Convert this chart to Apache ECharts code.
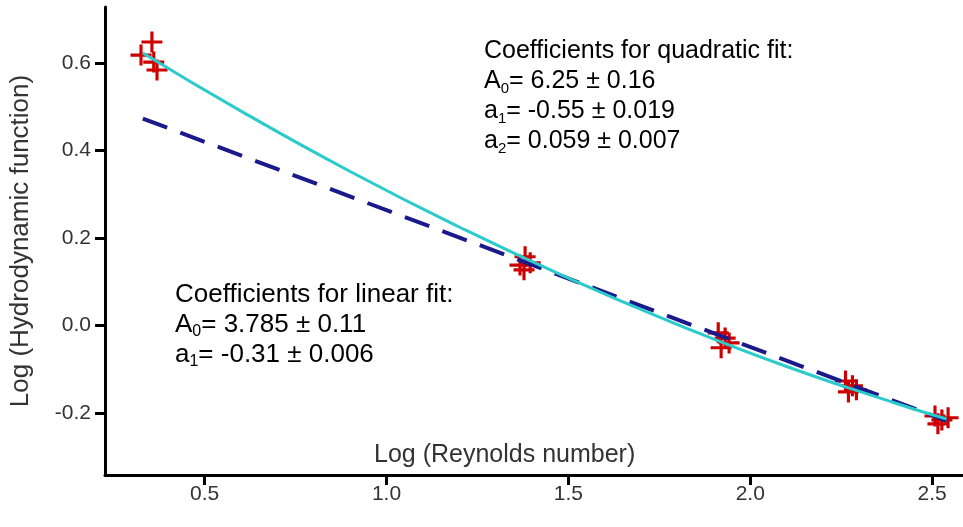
<!DOCTYPE html>
<html>
<head>
<meta charset="utf-8">
<script src="https://cdn.jsdelivr.net/npm/echarts@6/dist/echarts.min.js"></script>
<style>
  html, body { margin: 0; padding: 0; background: #fff; }
  #chart { width: 963px; height: 527px; }
</style>
</head>
<body>
<div id="chart"></div>
<script>
// Measured points: log10(Re) vs log10(hydrodynamic function), repeated runs per Re
const obsX = [0.355, 0.325, 0.360, 0.369,
              1.381, 1.367, 1.395, 1.378,
              1.912, 1.931, 1.942, 1.920,
              2.262, 2.281, 2.270, 2.292,
              2.508, 2.527, 2.544, 2.516];
const obsY = [0.648, 0.618, 0.602, 0.584,
              0.157, 0.138, 0.143, 0.127,
              -0.017, -0.029, -0.040, -0.051,
              -0.127, -0.138, -0.152, -0.147,
              -0.207, -0.216, -0.211, -0.225];

// Linear fit (end points of the straight line)
const linX = [0.33, 2.54];
const linY = [0.473, -0.218];

// Quadratic fit, sampled along the curve
const quadX = [0.33, 0.6, 0.9, 1.2, 1.5, 1.8, 2.1, 2.4, 2.54];
const quadY = [0.623, 0.490, 0.352, 0.225, 0.108, 0.002, -0.094, -0.178, -0.214];

// Axis ticks
const xTicks = [0.5, 1.0, 1.5, 2.0, 2.5];
const yTicks = [-0.2, 0.0, 0.2, 0.4, 0.6];

const FONT = 'Liberation Sans, Arial, Helvetica, sans-serif';
const PLUS = 'path://M8.5,0h3v8.5h8.5v3h-8.5v8.5h-3v-8.5h-8.5v-3h8.5z';

const zip = (xs, ys) => xs.map((x, i) => [x, ys[i]]);

const axisCommon = {
  type: 'value',
  splitLine: { show: false },
  axisLine: { show: true, onZero: false, lineStyle: { color: '#000', width: 3 } },
  axisTick: { show: true, length: 10, lineStyle: { color: '#000', width: 3 } },
  axisLabel: {
    color: '#333', fontFamily: FONT, fontSize: 21,
    formatter: v => v.toFixed(1)
  }
};

const richText = size => ({
  n: { fontFamily: FONT, fontSize: size, color: '#1a1a1a', lineHeight: 30 },
  s: { fontFamily: FONT, fontSize: Math.round(size * 0.6), color: '#1a1a1a',
       lineHeight: Math.round(size * 0.6), verticalAlign: 'bottom' }
});

const chart = echarts.init(document.getElementById('chart'), null, { renderer: 'canvas' });
chart.setOption({
  animation: false,
  backgroundColor: '#fff',
  grid: { left: 101, right: 0, top: 7, bottom: 52, containLabel: false },
  xAxis: Object.assign({}, axisCommon, {
    min: 0.226, max: 2.585,
    axisTick: Object.assign({}, axisCommon.axisTick, { customValues: xTicks }),
    axisLabel: Object.assign({}, axisCommon.axisLabel, { customValues: xTicks, margin: 9 })
  }),
  yAxis: Object.assign({}, axisCommon, {
    min: -0.342, max: 0.728,
    axisTick: Object.assign({}, axisCommon.axisTick, { customValues: yTicks }),
    axisLabel: Object.assign({}, axisCommon.axisLabel, { customValues: yTicks, margin: 14 }),
    name: 'Log (Hydrodynamic function)',
    nameLocation: 'middle',
    nameGap: 71,
    nameTextStyle: { fontFamily: FONT, fontSize: 26, color: '#333' }
  }),
  graphic: [
    {
      type: 'text', left: 374, top: 443,
      style: { text: 'Log (Reynolds number)', font: '25px ' + FONT, fill: '#333' }
    },
    {
      type: 'text', left: 484, top: 39,
      style: {
        text: '{n|Coefficients for quadratic fit:}\n{n|A}{s|0}{n|= 6.25 ± 0.16}\n{n|a}{s|1}{n|= -0.55 ± 0.019}\n{n|a}{s|2}{n|= 0.059 ± 0.007}',
        rich: richText(25)
      }
    },
    {
      type: 'text', left: 175, top: 282,
      style: {
        text: '{n|Coefficients for linear fit:}\n{n|A}{s|0}{n|= 3.785 ± 0.11}\n{n|a}{s|1}{n|= -0.31 ± 0.006}',
        rich: richText(26)
      }
    }
  ],
  series: [
    {
      name: 'measured',
      type: 'scatter',
      data: zip(obsX, obsY),
      symbol: PLUS,
      symbolSize: 21,
      itemStyle: { color: '#cc0000', opacity: 1 },
      z: 2
    },
    {
      name: 'linear fit',
      type: 'line',
      data: zip(linX, linY),
      showSymbol: false,
      lineStyle: { color: '#1a1a8c', width: 4, type: [26, 14] },
      z: 3
    },
    {
      name: 'quadratic fit',
      type: 'line',
      data: zip(quadX, quadY),
      smooth: true,
      showSymbol: false,
      lineStyle: { color: '#2ccbcb', width: 3 },
      z: 4
    }
  ]
});
</script>
</body>
</html>
